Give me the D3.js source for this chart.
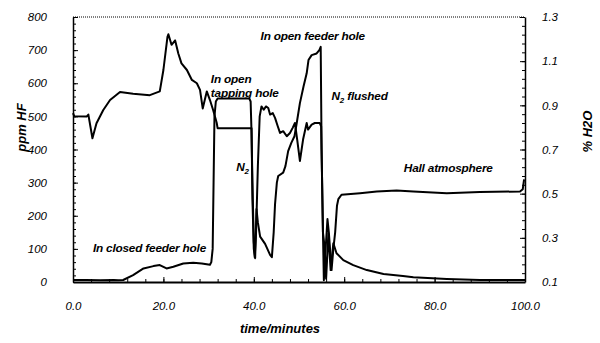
<!DOCTYPE html>
<html>
<head>
<meta charset="utf-8">
<script src="https://cdn.jsdelivr.net/npm/d3@7"></script>
<style>
  body { margin: 0; background: #fff; }
  svg text { font-family: "Liberation Sans", Arial, sans-serif; font-style: italic; fill: #000; }
  .tick text { font-size: 11.5px; }
  .title { font-size: 13px; font-weight: bold; }
  .note { font-size: 11.8px; font-weight: bold; letter-spacing: -0.2px; }
  .line { fill: none; stroke: #000; stroke-width: 2; stroke-linejoin: round; }
</style>
</head>
<body>
<div id="graph_draw"></div>
<script>
// time in minutes
var hfTime = [0, 3, 6, 9, 10, 11.1, 13.3, 15.6, 17.8, 19.2, 20.7, 22.2, 24.4, 26.6, 28.5, 30.3, 30.6,
  30.9, 31.1, 31.3, 31.6, 32, 39, 39.3, 39.5, 39.7, 40, 40.3, 40.6, 40.9, 41.4, 42.5, 43.6, 44, 44.4,
  44.7, 45.1, 45.4, 46.5, 47, 47.6, 48.3, 49, 49.5, 50.2, 51, 51.7, 52.1, 52.8, 53.9, 54.5, 54.8, 55,
  55.3, 55.7, 56, 56.5, 57, 57.6, 58.3, 59.8, 62, 65, 68.7, 73, 75.3, 82.7, 90, 100];
var hfPpm = [6, 6, 5, 6, 5, 6, 21, 41, 48, 51, 41, 46, 56, 58, 56, 52, 60,
  100, 300, 500, 545, 554, 554, 545, 450, 300, 120, 72, 220, 180, 137, 115, 82, 75, 150,
  235, 300, 320, 330, 350, 395, 420, 440, 480, 540, 590, 630, 670, 685, 690, 700, 710, 400,
  150, 100, 10, 147, 36, 117, 87, 66, 51, 36, 24, 18, 14, 9, 6, 6];

var h2oTime = [0, 0.3, 3, 3.4, 4.3, 5.2, 6.7, 8.2, 10.4, 13.3, 17, 19.2, 20, 20.9, 21.1, 21.8, 22.6,
  23.3, 24, 25.2, 26.3, 27.4, 28.1, 28.7, 29.6, 30.3, 31, 31.5, 31.8, 32, 39.5, 39.7, 40, 40.2, 40.5,
  40.9, 41.3, 41.7, 42.2, 42.7, 43.2, 43.6, 44.2, 44.7, 45.3, 45.8, 46.5, 47.3, 48, 48.6, 49.1, 49.6,
  50.2, 50.9, 51.7, 52, 52.8, 53.5, 54.6, 54.9, 55.3, 55.5, 55.8, 56.3, 56.6, 57.2, 57.6, 58, 58.4,
  58.7, 59.4, 63.5, 67.2, 71.6, 75.3, 82.7, 90, 98.9, 99.5, 99.8];
var h2oPct = [0.865, 0.85, 0.849, 0.858, 0.751, 0.819, 0.879, 0.924, 0.96, 0.952, 0.946, 0.963, 1.06, 1.21, 1.222, 1.174, 1.194,
  1.135, 1.09, 1.06, 1.015, 1.0, 0.97, 0.886, 0.963, 0.924, 0.879, 0.843, 0.82, 0.796, 0.796, 0.475, 0.25, 0.213, 0.325,
  0.625, 0.85, 0.895, 0.88, 0.895, 0.888, 0.858, 0.865, 0.843, 0.805, 0.775, 0.783, 0.76, 0.775, 0.798, 0.82, 0.745,
  0.648, 0.745, 0.82, 0.79, 0.813, 0.82, 0.82, 0.805, 0.325, 0.108, 0.22, 0.385, 0.325, 0.154, 0.25, 0.325, 0.445,
  0.475, 0.495, 0.502, 0.51, 0.514, 0.51, 0.502, 0.507, 0.51, 0.52, 0.565];

var xTicks = [0, 20, 40, 60, 80, 100];
var leftTicks = [0, 100, 200, 300, 400, 500, 600, 700, 800];
var rightTicks = [0.1, 0.3, 0.5, 0.7, 0.9, 1.1, 1.3];

var margin = {top: 17, right: 75, bottom: 61, left: 73},
    width = 600 - margin.left - margin.right,
    height = 343 - margin.top - margin.bottom;

var x = d3.scaleLinear().domain([0, 100]).range([0, width]);
var yL = d3.scaleLinear().domain([0, 800]).range([height, 0]);
var yR = d3.scaleLinear().domain([0.1, 1.3]).range([height, 0]);

var svg = d3.select("#graph_draw").append("svg")
    .attr("width", 600)
    .attr("height", 343)
  .append("g")
    .attr("transform", "translate(" + margin.left + "," + margin.top + ")");

// minor ticks, pointing inward
svg.append("g")
    .attr("transform", "translate(0," + height + ")")
    .call(d3.axisTop(x).tickValues(d3.range(0, 101, 4)).tickSize(3).tickFormat(""))
    .call(function(g) { g.select(".domain").remove(); });
svg.append("g")
    .call(d3.axisRight(yL).tickValues(d3.range(0, 801, 20)).tickSize(3).tickFormat(""))
    .call(function(g) { g.select(".domain").remove(); });
svg.append("g")
    .attr("transform", "translate(" + width + ",0)")
    .call(d3.axisLeft(yR).tickValues(d3.range(0, 31).map(function(i) { return 0.1 + i * 0.04; })).tickSize(3).tickFormat(""))
    .call(function(g) { g.select(".domain").remove(); });

// major axes
svg.append("g")
    .attr("transform", "translate(0," + height + ")")
    .call(d3.axisBottom(x).tickValues(xTicks).tickSizeInner(-5).tickSizeOuter(0).tickPadding(20).tickFormat(d3.format(".1f")))
    .call(function(g) { g.select(".domain").attr("stroke-width", 2); });
svg.append("g")
    .call(d3.axisLeft(yL).tickValues(leftTicks).tickSizeInner(-5).tickSizeOuter(0).tickPadding(26))
    .call(function(g) { g.select(".domain").attr("stroke-width", 1.5); });
svg.append("g")
    .attr("transform", "translate(" + width + ",0)")
    .call(d3.axisRight(yR).tickValues(rightTicks).tickSizeInner(-5).tickSizeOuter(0).tickPadding(17).tickFormat(d3.format(".1f")))
    .call(function(g) { g.select(".domain").attr("stroke-width", 1.5); });

svg.selectAll(".tick text").attr("font-size", null);

// dotted top border
svg.append("line")
    .attr("x1", 0).attr("x2", width).attr("y1", 0).attr("y2", 0)
    .attr("stroke", "#000").attr("stroke-width", 1).attr("stroke-dasharray", "1,1");

// curves
var hfLine = d3.line()
    .x(function(d, i) { return x(hfTime[i]); })
    .y(function(d) { return yL(d); });
var h2oLine = d3.line()
    .x(function(d, i) { return x(h2oTime[i]); })
    .y(function(d) { return yR(d); });

svg.append("path").datum(hfPpm).attr("class", "line").attr("d", hfLine);
svg.append("path").datum(h2oPct).attr("class", "line").attr("d", h2oLine);

// axis titles
svg.append("text").attr("class", "title")
    .attr("transform", "translate(" + (-47) + "," + (height / 2 - 22) + ") rotate(-90)")
    .attr("text-anchor", "middle").text("ppm HF");
svg.append("text").attr("class", "title")
    .attr("transform", "translate(" + (width + 67) + "," + (height / 2 - 18) + ") rotate(-90)")
    .attr("text-anchor", "middle").text("% H2O");
svg.append("text").attr("class", "title")
    .attr("x", 207).attr("y", height + 51)
    .attr("text-anchor", "middle").text("time/minutes");

// annotations
function note(t, ppm, str, sub, rest) {
  var tx = svg.append("text").attr("class", "note").attr("x", x(t)).attr("y", yL(ppm)).text(str);
  if (sub) {
    tx.append("tspan").attr("font-size", "8px").attr("dy", 3).text(sub);
    tx.append("tspan").attr("dy", -3).text(rest);
  }
}
note(4.4, 90, "In closed feeder hole");
note(30.5, 602, "In open");
note(30.5, 560, "tapping hole");
note(36.1, 335, "N", "2", "");
note(41.5, 730, "In open feeder hole");
note(57.2, 550, "N", "2", " flushed");
note(73.2, 333, "Hall atmosphere");
</script>
</body>
</html>
